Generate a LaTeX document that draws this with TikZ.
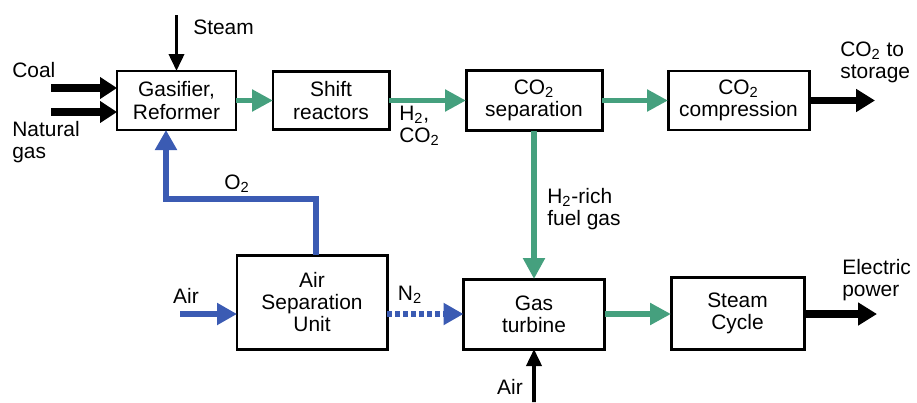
\documentclass[tikz,border=0pt]{standalone}
\usepackage{fontspec}
\setmainfont{Liberation Sans}
\usepackage{xcolor}
\usepackage{tikz}
\usetikzlibrary{arrows.meta,positioning}
\definecolor{gasgreen}{HTML}{45A07E}
\definecolor{airblue}{HTML}{3B5BB3}
\tikzset{
  unit/.style={rectangle,draw=black,line width=1.7pt,fill=white,align=center,inner sep=0pt,outer sep=0pt,font=\fontsize{11.9}{12.6}\selectfont},
  lbl/.style={align=left,inner sep=0pt,font=\fontsize{11.9}{12.6}\selectfont},
  greenflow/.style={-{Triangle[length=4.2mm,width=4.2mm]},line width=3.1pt,draw=gasgreen},
  feed/.style={-{Triangle[length=3.4mm,width=4.2mm]},line width=4pt,draw=black},
  thinfeed/.style={-{Triangle[length=3.4mm,width=3mm]},line width=2.1pt,draw=black},
  product/.style={-{Triangle[length=3.8mm,width=4.4mm]},line width=4.4pt,draw=black},
  blueflow/.style={-{Triangle[length=4mm,width=4.2mm]},line width=3.1pt,draw=airblue},
  dottedflow/.style={blueflow,dash pattern=on 1mm off 0.6mm}
}
\begin{document}
\begin{tikzpicture}
\useasboundingbox (0,0) rectangle (18.34,8.04);
% process units
\node[unit,minimum width=2.38cm,minimum height=1.18cm] (gasifier) at (3.53,6.03) {Gasifier,\\Reformer};
\node[unit,minimum width=2.32cm,minimum height=1.16cm,right=0.74cm of gasifier] (shift) {Shift\\reactors};
\node[unit,minimum width=2.72cm,minimum height=1.2cm,right=1.54cm of shift] (cosep) {CO\textsubscript{2}\\separation};
\node[unit,minimum width=2.82cm,minimum height=1.18cm,right=1.32cm of cosep] (cocomp) {CO\textsubscript{2}\\compression};
\node[unit,minimum width=2.82cm,minimum height=1.4cm,below=2.97cm of cosep] (turbine) {Gas\\turbine};
\node[unit,minimum width=2.66cm,minimum height=1.44cm,right=1.33cm of turbine.south east,anchor=south west] (cycle) {Steam\\Cycle};
\node[unit,minimum width=3cm,minimum height=1.88cm,left=1.53cm of turbine.south west,anchor=south east] (asu) {Air\\Separation\\Unit};
% free ends
\coordinate (coalin) at (1.02,6.28);
\coordinate (ngin) at (1.02,5.8);
\coordinate (steamin) at (3.53,7.74);
\coordinate (airin) at (3.6,1.76);
\coordinate (airgt) at (10.68,0);
\coordinate (o2bend) at (3.32,4.06);
\coordinate (storage) at (17.5,6.03);
\coordinate (power) at (17.54,1.76);
% labels
\node[lbl,anchor=west] (coallbl) at (0.24,6.64) {Coal};
\node[lbl,anchor=west] (nglbl) at (0.24,5.2) {Natural\\gas};
\node[lbl,anchor=west] (steamlbl) at (3.86,7.5) {Steam};
\node[lbl] (o2lbl) at (4.74,4.36) {O\textsubscript{2}};
\node[lbl,anchor=west] (h2lbl) at (7.98,5.52) {H\textsubscript{2},\\CO\textsubscript{2}};
\node[lbl,anchor=west] (fuellbl) at (10.94,3.86) {H\textsubscript{2}-rich\\fuel gas};
\node[lbl,anchor=west] (storelbl) at (16.8,6.8) {CO\textsubscript{2} to\\storage};
\node[lbl] (airlbl) at (3.72,2.12) {Air};
\node[lbl] (n2lbl) at (8.2,2.14) {N\textsubscript{2}};
\node[lbl,anchor=west] (powerlbl) at (16.84,2.44) {Electric\\power};
\node[lbl] (airgtlbl) at (10.2,0.3) {Air};
% streams
\draw[feed] (coalin) -- (coalin -| gasifier.west);
\draw[feed] (ngin) -- (ngin -| gasifier.west);
\draw[thinfeed] (steamin) -- (gasifier.north);
\draw[greenflow] (gasifier) -- (shift);
\draw[greenflow] (shift) -- (cosep);
\draw[greenflow] (cosep) -- (cocomp);
\draw[product] (cocomp) -- (storage);
\draw[greenflow] (cosep) -- (turbine);
\draw[greenflow] (turbine) -- (turbine -| cycle.west);
\draw[product] (cycle.east |- power) -- (power);
\draw[thinfeed] (airgt) -- (turbine.south);
\draw[blueflow] (airin) -- (airin -| asu.west);
\draw[dottedflow] (asu.east |- turbine) -- (turbine.west);
\draw[blueflow] ([xshift=0.08cm]asu.north) |- (o2bend) -- (o2bend |- gasifier.south);
\end{tikzpicture}
\end{document}
